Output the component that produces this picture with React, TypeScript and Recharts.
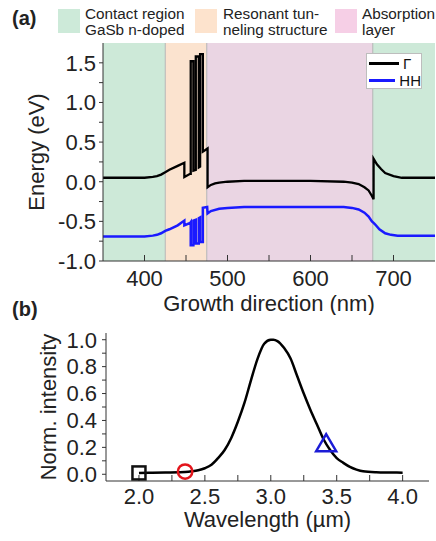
import React from "react";
import {
  ComposedChart,
  Line,
  Scatter,
  XAxis,
  YAxis,
  ReferenceArea,
  ReferenceLine,
  Legend,
  Label,
} from "recharts";

const FONT = "'Liberation Sans', Arial, sans-serif";

// (a) band diagram along the growth direction (nm / eV)
const gammaPos = [
  350, 400, 410, 415, 420, 425, 430, 440, 448, 448, 455, 455.7, 455.7, 458.9,
  458.9, 461.8, 461.8, 465.4, 465.4, 467, 467, 470.3, 470.3, 476, 476, 480,
  485, 490, 500, 520, 600, 640, 650, 658, 665, 670, 674, 676, 676, 680, 685,
  690, 700, 710, 750,
];
const gammaEnergy = [
  0.05, 0.05, 0.06, 0.07, 0.09, 0.12, 0.15, 0.2, 0.24, 0.06, 0.1, 0.1, 1.52,
  1.52, 0.14, 0.15, 1.58, 1.58, 0.18, 0.19, 1.61, 1.61, 0.38, 0.42, -0.07,
  -0.04, -0.02, -0.01, 0.0, 0.01, 0.01, 0.0, -0.01, -0.03, -0.07, -0.11,
  -0.18, -0.22, 0.29, 0.22, 0.16, 0.11, 0.07, 0.05, 0.05,
];
const hhPos = [
  350, 400, 410, 415, 420, 425, 430, 440, 448, 448, 455, 455.7, 455.7, 458.9,
  458.9, 461.8, 461.8, 465.4, 465.4, 467, 467, 470.3, 470.3, 475.5, 476, 480,
  490, 500, 520, 600, 640, 650, 658, 665, 670, 674, 676, 678, 683, 690, 697,
  705, 750,
];
const hhEnergy = [
  -0.69, -0.69, -0.68, -0.67, -0.65, -0.62, -0.6, -0.55, -0.49, -0.55, -0.52,
  -0.51, -0.8, -0.8, -0.49, -0.48, -0.78, -0.78, -0.46, -0.45, -0.76, -0.76,
  -0.33, -0.32, -0.4, -0.37, -0.34, -0.33, -0.32, -0.32, -0.32, -0.33, -0.35,
  -0.39, -0.44, -0.5, -0.52, -0.54, -0.6, -0.65, -0.67, -0.68, -0.68,
];
const bandNames = ["\u0393", "HH"];

// layers of the structure
const regionStart = [350, 425, 475, 675];
const regionEnd = [425, 475, 675, 750];
const regionKind = [0, 1, 2, 0];
const regionLabels = [
  ["Contact region", "GaSb n-doped"],
  ["Resonant tun-", "neling structure"],
  ["Absorption", "layer"],
];

const posTicks = [400, 450, 500, 550, 600, 650, 700];
const energyTicks = [-1, -0.75, -0.5, -0.25, 0, 0.25, 0.5, 0.75, 1, 1.25, 1.5];

// (b) normalized spectrum
const wavelength = [
  2.0, 2.1, 2.2, 2.3, 2.35, 2.4, 2.45, 2.5, 2.55, 2.6, 2.65, 2.7, 2.75, 2.8,
  2.85, 2.9, 2.95, 3.0, 3.02, 3.05, 3.1, 3.15, 3.2, 3.25, 3.3, 3.35, 3.4,
  3.45, 3.5, 3.55, 3.6, 3.65, 3.7, 3.8, 3.9, 4.0,
];
const intensity = [
  0.01, 0.012, 0.013, 0.015, 0.017, 0.022, 0.03, 0.045, 0.07, 0.12, 0.18,
  0.27, 0.39, 0.53, 0.7, 0.86, 0.97, 1.0, 1.0, 0.99, 0.94, 0.86, 0.73, 0.6,
  0.48, 0.37, 0.26, 0.18, 0.12, 0.085, 0.055, 0.035, 0.022, 0.015, 0.013,
  0.012,
];
const markerWl = [2.0, 2.35, 3.42];
const markerIntensity = [0.01, 0.02, 0.22];

const wlTicks = [2, 2.25, 2.5, 2.75, 3, 3.25, 3.5, 3.75, 4];
const intensityTicks = [0, 0.1, 0.2, 0.3, 0.4, 0.5, 0.6, 0.7, 0.8, 0.9, 1.0];

const gammaData = gammaPos.map((p, i) => ({ pos: p, energy: gammaEnergy[i] }));
const hhData = hhPos.map((p, i) => ({ pos: p, energy: hhEnergy[i] }));
const spectrumData = wavelength.map((w, i) => ({ wl: w, intensity: intensity[i] }));
const markerData = markerWl.map((w, i) => ({ wl: w, intensity: markerIntensity[i] }));

const regionFill = ["#cde9d8", "#fbe3cf", "#ead5e3"];
const swatchFill = ["#cdead9", "#fde3cd", "#f6cfe6"];
const bandColors = ["#000000", "#1a1aff"];

const axisColor = "#333";
const tickText = { fontSize: 22, fill: "#222", fontFamily: FONT };
const labelText = { fontSize: 22, fill: "#222", fontFamily: FONT };

const isMultiple = (v: number, step: number) =>
  Math.abs(v / step - Math.round(v / step)) < 1e-6;

const BandLegend = () => (
  <div
    style={{
      width: 56,
      height: 36,
      boxSizing: "border-box",
      background: "#fff",
      border: "1px solid #bdbdbd",
      fontFamily: FONT,
      fontSize: 15,
      paddingTop: 1,
    }}
  >
    {bandNames.map((name, i) => (
      <div
        key={name}
        style={{ display: "flex", alignItems: "center", height: 17, marginLeft: 2 }}
      >
        <span
          style={{
            display: "inline-block",
            width: 30,
            borderTop: `3px solid ${bandColors[i]}`,
            marginRight: 4,
          }}
        />
        <span style={{ color: "#111" }}>{name}</span>
      </div>
    ))}
  </div>
);

const SquareMark = (p: any) => (
  <rect x={p.cx - 6.5} y={p.cy - 6.5} width={13} height={13} fill="none" stroke="#111" strokeWidth={2.5} />
);
const CircleMark = (p: any) => (
  <circle cx={p.cx} cy={p.cy} r={7.2} fill="none" stroke="#e3151b" strokeWidth={2.5} />
);
const TriangleMark = (p: any) => (
  <polygon
    points={`${p.cx},${p.cy - 10.5} ${p.cx - 10},${p.cy + 6.5} ${p.cx + 10},${p.cy + 6.5}`}
    fill="none"
    stroke="#1c1cd6"
    strokeWidth={2.5}
  />
);
const markShapes = [SquareMark, CircleMark, TriangleMark];

const BandChart = () => (
  <ComposedChart width={436} height={315} margin={{ top: 43, right: 1, bottom: 4, left: 0 }}>
    {regionStart.map((s, i) => (
      <ReferenceArea
        key={s}
        x1={s}
        x2={regionEnd[i]}
        fill={regionFill[regionKind[i]]}
        fillOpacity={1}
        stroke="none"
      />
    ))}
    {regionStart.slice(1).map((s) => (
      <ReferenceLine key={s} x={s} stroke="#b5b5b5" strokeWidth={1} />
    ))}
    <Line
      data={hhData}
      dataKey="energy"
      name={bandNames[1]}
      type="linear"
      stroke={bandColors[1]}
      strokeWidth={2.5}
      dot={false}
      isAnimationActive={false}
    />
    <Line
      data={gammaData}
      dataKey="energy"
      name={bandNames[0]}
      type="linear"
      stroke={bandColors[0]}
      strokeWidth={2.3}
      dot={false}
      isAnimationActive={false}
    />
    <XAxis
      dataKey="pos"
      type="number"
      domain={[350, 750]}
      allowDataOverflow
      ticks={posTicks}
      interval={0}
      tickFormatter={(v: number) => (isMultiple(v, 100) ? String(v) : "")}
      height={50}
      tickSize={-6}
      tickMargin={15}
      tick={tickText}
      axisLine={{ stroke: axisColor }}
      tickLine={{ stroke: axisColor }}
    >
      <Label value="Growth direction (nm)" position="insideBottom" offset={0} style={labelText} />
    </XAxis>
    <XAxis
      xAxisId="top"
      orientation="top"
      type="number"
      domain={[350, 750]}
      allowDataOverflow
      ticks={posTicks}
      interval={0}
      height={0}
      tickSize={-6}
      tick={false}
      axisLine={{ stroke: axisColor }}
      tickLine={{ stroke: axisColor }}
    />
    <YAxis
      type="number"
      domain={[-1, 1.75]}
      allowDataOverflow
      ticks={energyTicks}
      interval={0}
      tickFormatter={(v: number) => (isMultiple(v, 0.5) ? v.toFixed(1) : "")}
      width={103}
      tickSize={4}
      tickMargin={3}
      tick={tickText}
      axisLine={{ stroke: axisColor }}
      tickLine={{ stroke: axisColor }}
    >
      <Label
        value="Energy (eV)"
        angle={-90}
        position="insideLeft"
        offset={36}
        style={{ ...labelText, textAnchor: "middle" }}
      />
    </YAxis>
    <YAxis
      yAxisId="right"
      orientation="right"
      type="number"
      domain={[-1, 1.75]}
      allowDataOverflow
      ticks={energyTicks}
      interval={0}
      width={0}
      tickSize={-6}
      tick={false}
      axisLine={{ stroke: axisColor }}
      tickLine={{ stroke: axisColor }}
    />
    <Legend
      layout="horizontal"
      verticalAlign="middle"
      align="center"
      content={<BandLegend />}
      wrapperStyle={{ left: 366, top: 53, width: 56, height: 36 }}
    />
  </ComposedChart>
);

const SpectrumChart = () => (
  <ComposedChart width={436} height={242} margin={{ top: 43, right: 7, bottom: 6, left: 0 }}>
    <Line
      data={spectrumData}
      dataKey="intensity"
      type="monotone"
      stroke="#000"
      strokeWidth={2.5}
      dot={false}
      isAnimationActive={false}
    />
    {markerData.map((m, i) => (
      <Scatter
        key={m.wl}
        data={[m]}
        dataKey="intensity"
        shape={markShapes[i]}
        isAnimationActive={false}
      />
    ))}
    <XAxis
      dataKey="wl"
      type="number"
      domain={[1.75, 4.2]}
      allowDataOverflow
      ticks={wlTicks}
      interval={0}
      tickFormatter={(v: number) => (isMultiple(v, 0.5) ? v.toFixed(1) : "")}
      height={45}
      tickSize={-6}
      tickMargin={13}
      tick={tickText}
      axisLine={{ stroke: axisColor }}
      tickLine={{ stroke: axisColor }}
    >
      <Label value="Wavelength (µm)" position="insideBottom" offset={-1} style={labelText} />
    </XAxis>
    <XAxis
      xAxisId="top"
      orientation="top"
      type="number"
      domain={[1.75, 4.2]}
      allowDataOverflow
      ticks={wlTicks}
      interval={0}
      height={0}
      tickSize={-6}
      tick={false}
      axisLine={{ stroke: axisColor }}
      tickLine={{ stroke: axisColor }}
    />
    <YAxis
      dataKey="intensity"
      type="number"
      domain={[-0.05, 1.05]}
      allowDataOverflow
      ticks={intensityTicks}
      interval={0}
      tickFormatter={(v: number) => (isMultiple(v, 0.2) ? v.toFixed(1) : "")}
      width={106}
      tickSize={4}
      tickMargin={5}
      tick={tickText}
      axisLine={{ stroke: axisColor }}
      tickLine={{ stroke: axisColor }}
    >
      <Label
        value="Norm. intensity"
        angle={-90}
        position="insideLeft"
        offset={48}
        style={{ ...labelText, textAnchor: "middle" }}
      />
    </YAxis>
    <YAxis
      yAxisId="right"
      orientation="right"
      type="number"
      domain={[-0.05, 1.05]}
      allowDataOverflow
      ticks={intensityTicks}
      interval={0}
      width={0}
      tickSize={-6}
      tick={false}
      axisLine={{ stroke: axisColor }}
      tickLine={{ stroke: axisColor }}
    />
  </ComposedChart>
);

const swatchLeft = [58, 195, 335];
const textLeft = [85, 223, 362];

const App = () => (
  <div
    style={{
      position: "absolute",
      left: 0,
      top: 0,
      width: 436,
      height: 541,
      background: "#fff",
      fontFamily: FONT,
      overflow: "hidden",
    }}
  >
    <div style={{ position: "absolute", left: 12, top: 8, fontSize: 20, fontWeight: "bold", lineHeight: "20px", color: "#222" }}>
      (a)
    </div>
    <div style={{ position: "absolute", left: 12, top: 299, fontSize: 20, fontWeight: "bold", lineHeight: "20px", color: "#222" }}>
      (b)
    </div>
    {regionLabels.map((lines, i) => (
      <React.Fragment key={lines[0]}>
        <div
          style={{
            position: "absolute",
            left: swatchLeft[i],
            top: 9,
            width: 22,
            height: 24,
            background: swatchFill[i],
          }}
        />
        <div
          style={{
            position: "absolute",
            left: textLeft[i],
            top: 6,
            fontSize: 15.3,
            lineHeight: "15.5px",
            color: "#222",
            whiteSpace: "nowrap",
          }}
        >
          {lines.map((t) => (
            <div key={t}>{t}</div>
          ))}
        </div>
      </React.Fragment>
    ))}
    <div style={{ position: "absolute", left: 0, top: 0 }}>
      <BandChart />
    </div>
    <div style={{ position: "absolute", left: 0, top: 290 }}>
      <SpectrumChart />
    </div>
  </div>
);

export default App;
